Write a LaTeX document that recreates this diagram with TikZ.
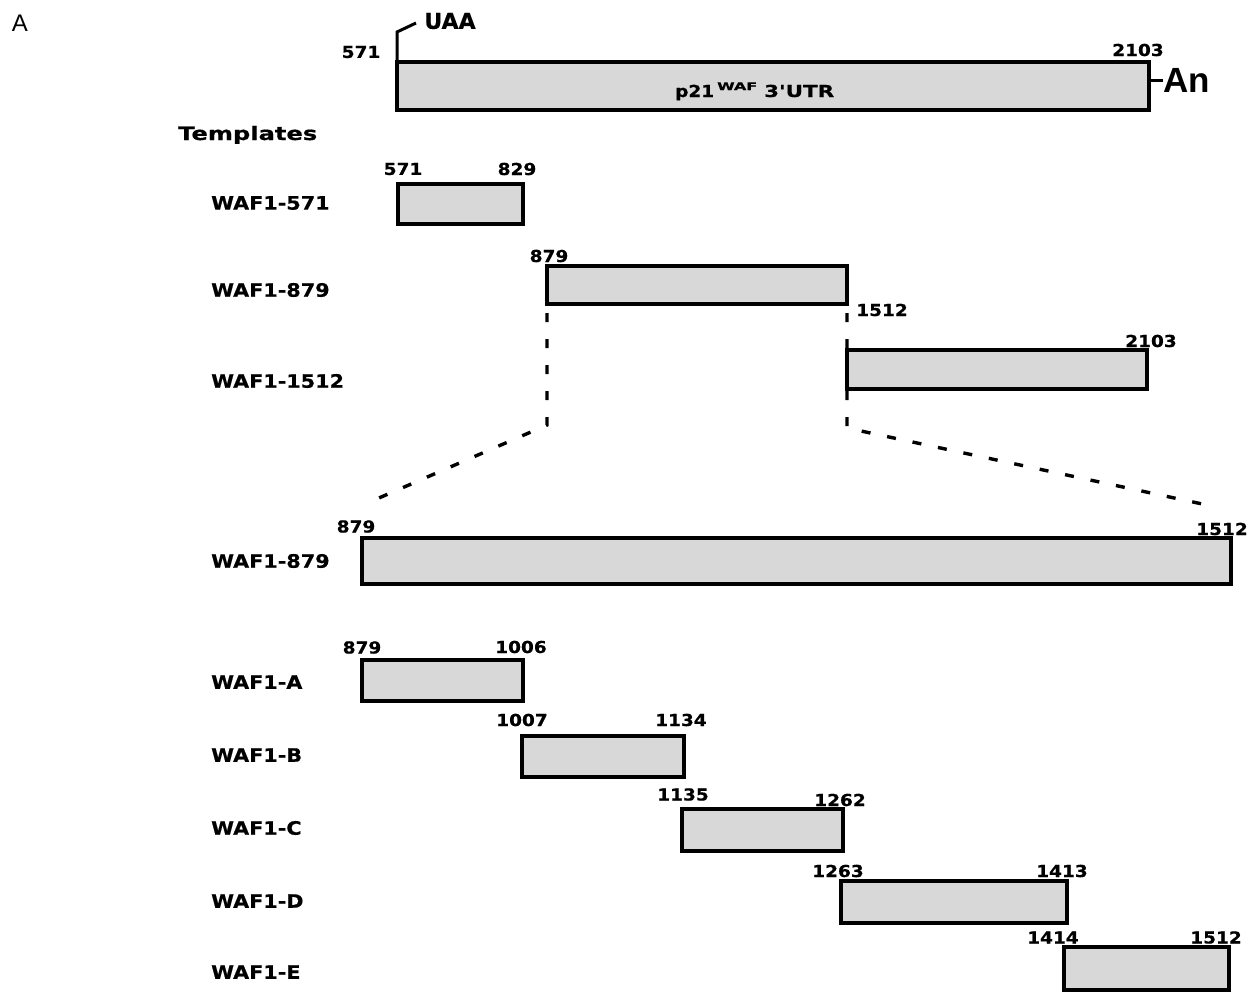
\documentclass[tikz,border=0pt]{standalone}
\usepackage{fontspec}
\setmainfont{DejaVu Sans}
\newfontfamily\lblfont{DejaVu Sans}[FakeStretch=1.12, FakeBold=0.6]
\newfontfamily\numfont{DejaVu Sans}[FakeStretch=1.12, FakeBold=0.6]
\newfontfamily\hdfont{DejaVu Sans}[FakeBold=0.6]
\newfontfamily\anfont{Liberation Sans}
\definecolor{boxgray}{RGB}{216,216,216}
\tikzset{
  bx/.style={draw=black, line width=3.2pt, fill=boxgray, inner sep=0pt, outer sep=0pt, anchor=north west},
  num/.style={font=\numfont\bfseries\fontsize{16.5}{16.5}\selectfont, inner sep=0pt},
  lbl/.style={font=\lblfont\bfseries\fontsize{18.5}{18.5}\selectfont, inner sep=0pt, anchor=west},
  dsh/.style={line width=3.4pt, dash pattern=on 9pt off 17pt, dash phase=17pt},
  tick/.style={line width=3pt}
}
\begin{document}
\begin{tikzpicture}[x=1pt,y=-1pt]
\useasboundingbox (0,0) rectangle (1250,993);
% panel letter
\node[inner sep=0pt, font=\anfont\fontsize{24}{24}\selectfont] (panel) at (20,23.5) {A};
% full 3'UTR
\node[bx, minimum width=752pt, minimum height=48pt] (utr) at (397,62) {};
\node[inner sep=0pt, anchor=base west] (utrlab) at (675,97)
  {{\numfont\bfseries\fontsize{16.5}{16.5}\selectfont p21}\hspace{3pt}\raisebox{7pt}{\resizebox{40pt}{\height}{\numfont\bfseries\fontsize{10.5}{10.5}\selectfont WAF}}\hspace{7pt}\resizebox{70pt}{\height}{\numfont\bfseries\fontsize{16.5}{16.5}\selectfont 3'UTR}};
\node[inner sep=0pt, font=\hdfont\bfseries\fontsize{22}{22}\selectfont] (uaa) at (450,21) {UAA};
\coordinate (uaabend) at (397,32);
\coordinate (uaaend) at (416,23);
\draw[tick, line join=miter] (utr.north west) -- (uaabend) -- (uaaend);
\node[num] (u571) at (361,52) {571};
\node[num] (u2103) at (1138,50) {2103};
\node[inner sep=0pt, anchor=west, font=\anfont\bfseries\fontsize{35}{35}\selectfont] (an) at (1163,80) {An};
\draw[tick] (an.west -| utr.east) -- (an.west);
% Templates heading
\node[inner sep=0pt, anchor=base west] (tpl) at (178,140)
  {\resizebox{139pt}{\height}{\hdfont\bfseries\fontsize{18.5}{18.5}\selectfont Templates}};
% templates
\node[bx, minimum width=125pt, minimum height=40pt] (t571) at (398,184) {};
\node[bx, minimum width=300pt, minimum height=38pt] (t879) at (547,266) {};
\node[bx, minimum width=300pt, minimum height=39pt] (t1512) at (847,350) {};
\node[lbl] (l571) at (211,203) {WAF1-571};
\node[lbl] (l879) at (211,290) {WAF1-879};
\node[lbl] (l1512) at (211,381) {WAF1-1512};
\node[num] (a571) at (403,169) {571};
\node[num] (a829) at (517,169) {829};
\node[num] (b879) at (549,256) {879};
\node[num] (b1512) at (882,310) {1512};
\node[num] (c2103) at (1151,341) {2103};
% expansion
\coordinate (lb) at (547,425);
\coordinate (le) at (372,501);
\coordinate (rb) at (847,428);
\coordinate (re) at (1207,505);
\draw[dsh] (t879.south west) -- (lb) -- (le);
\draw[dsh] (t879.south east) -- (rb) -- (re);
\node[bx, minimum width=869pt, minimum height=46pt] (big) at (362,538) {};
\node[lbl] (lbig) at (211,561) {WAF1-879};
\node[num] (d879) at (356,526.5) {879};
\node[num] (d1512) at (1222,529) {1512};
% sub-fragments
\node[bx, minimum width=161pt, minimum height=41pt] (wa) at (362,660) {};
\node[bx, minimum width=162pt, minimum height=41pt] (wb) at (522,736) {};
\node[bx, minimum width=161pt, minimum height=42pt] (wc) at (682,809) {};
\node[bx, minimum width=226pt, minimum height=42pt] (wd) at (841,881) {};
\node[bx, minimum width=165pt, minimum height=43pt] (we) at (1064,947) {};
\node[lbl] (la) at (211,682) {WAF1-A};
\node[lbl] (lb2) at (211,755) {WAF1-B};
\node[lbl] (lc) at (211,828) {WAF1-C};
\node[lbl] (ld) at (211,901) {WAF1-D};
\node[lbl] (le2) at (211,972) {WAF1-E};
\node[num] (e879) at (362,647.5) {879};
\node[num] (e1006) at (521,647) {1006};
\node[num] (f1007) at (522,720) {1007};
\node[num] (f1134) at (681,720) {1134};
\node[num] (g1135) at (683,794.5) {1135};
\node[num] (g1262) at (840,800) {1262};
\node[num] (h1263) at (838,871) {1263};
\node[num] (h1413) at (1062,871) {1413};
\node[num] (i1414) at (1053,937.5) {1414};
\node[num] (i1512) at (1216,937.5) {1512};
\end{tikzpicture}
\end{document}
